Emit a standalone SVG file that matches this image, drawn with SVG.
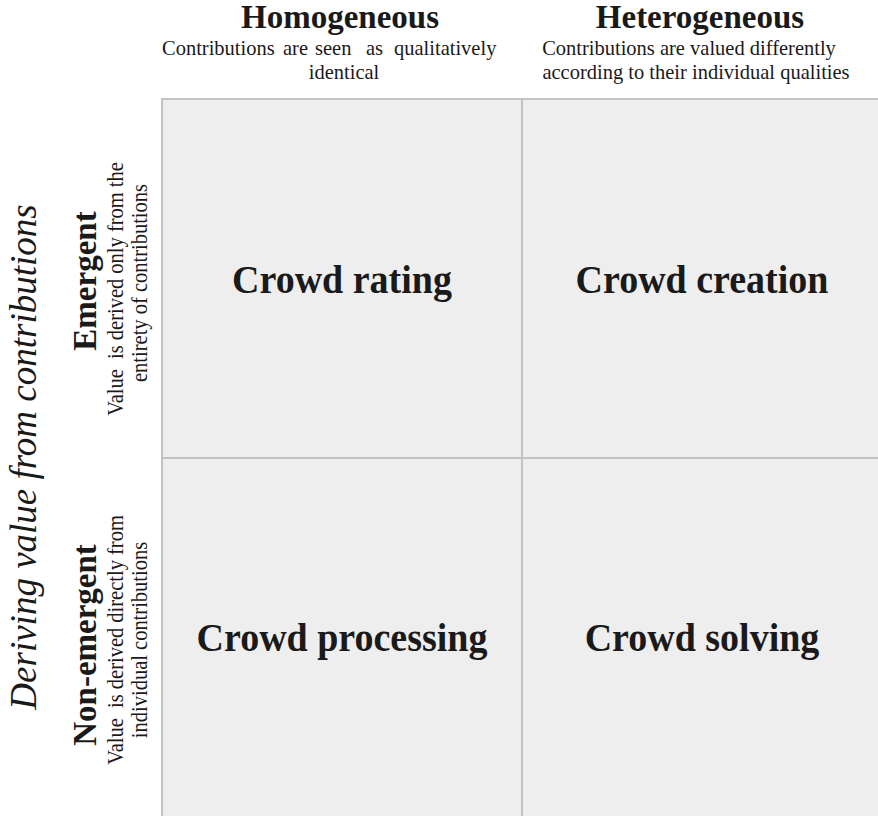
<svg xmlns="http://www.w3.org/2000/svg" width="878" height="816" viewBox="0 0 878 816">
  <style>
    .cell { fill: #eeeeee; stroke: #c2c2c2; stroke-width: 2; }
    .quad { font-family: "Liberation Serif", "Times New Roman", serif; font-weight: bold; font-size: 38px; fill: #1a1a1a; text-anchor: middle; }
    .head { font-family: "Liberation Serif", "Times New Roman", serif; font-weight: bold; font-size: 33px; fill: #1a1a1a; text-anchor: middle; }
    .sub { font-family: "Liberation Serif", "Times New Roman", serif; font-size: 20.5px; fill: #1a1a1a; text-anchor: middle; white-space: pre; }
    .subl { font-family: "Liberation Serif", "Times New Roman", serif; font-size: 20.5px; fill: #1a1a1a; }
    .axis { font-family: "Liberation Serif", "Times New Roman", serif; font-style: italic; font-size: 37px; fill: #1a1a1a; text-anchor: middle; }
  </style>
  <rect x="0" y="0" width="878" height="816" fill="#ffffff"/>

  <!-- column headers -->
  <g id="col-homogeneous">
    <text class="head" x="340" y="28">Homogeneous</text>
    <text class="subl" transform="translate(0,55) scale(1,1.05)"><tspan x="162" y="0">Contributions</tspan><tspan x="283" y="0">are</tspan><tspan x="315" y="0">seen</tspan><tspan x="366" y="0">as</tspan><tspan x="394" y="0">qualitatively</tspan></text>
    <text class="sub" transform="translate(344,79) scale(1,1.05)">identical</text>
  </g>
  <g id="col-heterogeneous">
    <text class="head" x="700" y="28">Heterogeneous</text>
    <text class="sub" transform="translate(689,55) scale(1,1.05)">Contributions are valued differently</text>
    <text class="sub" transform="translate(696,79) scale(1,1.05)">according to their individual qualities</text>
  </g>

  <!-- row headers (rotated) -->
  <g id="axis-label">
    <text class="axis" transform="translate(36,457) rotate(-90)">Deriving value from contributions</text>
  </g>
  <g id="row-emergent">
    <text class="head" transform="translate(96,281) rotate(-90)">Emergent</text>
    <text class="sub" font-size="21" transform="translate(123,289) rotate(-90) scale(1,1.1)">Value  is derived only from the</text>
    <text class="sub" font-size="21" transform="translate(147,283) rotate(-90) scale(1,1.1)">entirety of contributions</text>
  </g>
  <g id="row-non-emergent">
    <text class="head" transform="translate(96,645) rotate(-90)">Non-emergent</text>
    <text class="sub" font-size="21" transform="translate(123,640) rotate(-90) scale(1,1.1)">Value  is derived directly from</text>
    <text class="sub" font-size="21" transform="translate(147,640) rotate(-90) scale(1,1.1)">individual contributions</text>
  </g>

  <!-- quadrants -->
  <g id="crowd-rating">
    <rect class="cell" x="162" y="99" width="360" height="359"/>
    <text class="quad" transform="translate(342,293) scale(1,1.08)">Crowd rating</text>
  </g>
  <g id="crowd-creation">
    <rect class="cell" x="522" y="99" width="370" height="359"/>
    <text class="quad" transform="translate(702,293) scale(1,1.08)">Crowd creation</text>
  </g>
  <g id="crowd-processing">
    <rect class="cell" x="162" y="458" width="360" height="370"/>
    <text class="quad" transform="translate(342,651) scale(1,1.08)">Crowd processing</text>
  </g>
  <g id="crowd-solving">
    <rect class="cell" x="522" y="458" width="370" height="370"/>
    <text class="quad" transform="translate(702,651) scale(1,1.08)">Crowd solving</text>
  </g>

  <g id="connectors"></g>
</svg>
